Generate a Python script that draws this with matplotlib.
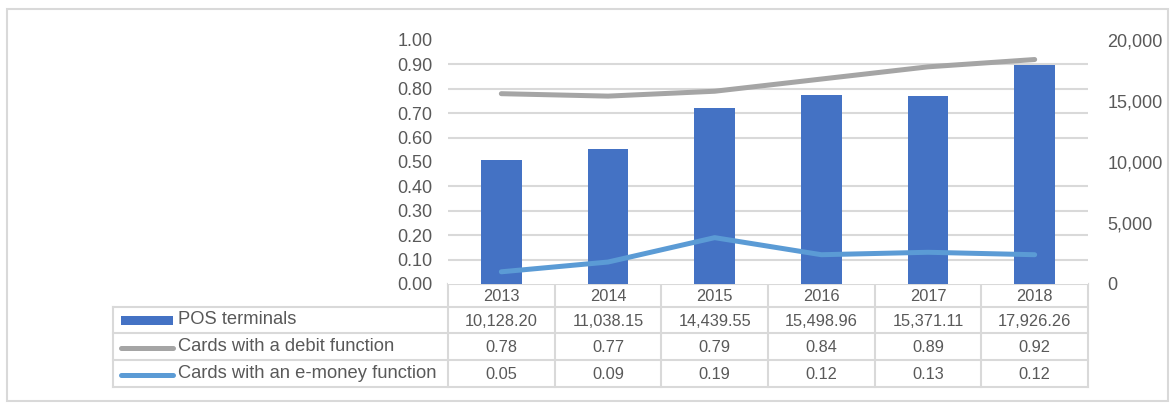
import matplotlib
matplotlib.use("Agg")
import matplotlib.pyplot as plt
from matplotlib.ticker import MultipleLocator, FixedLocator, FuncFormatter

# dane
years = ["2013", "2014", "2015", "2016", "2017", "2018"]
pos_terminals = [10128.20, 11038.15, 14439.55, 15498.96, 15371.11, 17926.26]
debit_cards = [0.78, 0.77, 0.79, 0.84, 0.89, 0.92]
emoney_cards = [0.05, 0.09, 0.19, 0.12, 0.13, 0.12]
series_names = ["POS terminals", "Cards with a debit function", "Cards with an e-money function"]

blue_bar = "#4472C4"
grey_line = "#A5A5A5"
blue_line = "#5B9BD5"
txt = "#595959"
grid_c = "#D9D9D9"

plt.rcParams["font.family"] = ["Liberation Sans", "DejaVu Sans"]

W, H = 1175, 407
fig = plt.figure(figsize=(W / 100, H / 100), dpi=100)

# obramowanie całego wykresu
frame = fig.add_axes([0, 0, 1, 1])
frame.set_xlim(0, W)
frame.set_ylim(H, 0)
frame.axis("off")
frame.add_patch(plt.Rectangle((7, 9), 1161, 392, fill=False, ec=grid_c, lw=1.5))

# osie wykresu
left, right, top, bottom = 448, 1088, 40, 284
ax = fig.add_axes([left / W, (H - bottom) / H, (right - left) / W, (bottom - top) / H])
x = list(range(len(years)))
ax.bar(x, pos_terminals, width=0.38, color=blue_bar, zorder=2)
ax.set_xlim(-0.5, len(years) - 0.5)
ax.set_ylim(0, 20000)
ax.yaxis.set_major_locator(FixedLocator([0, 5000, 10000, 15000, 20000]))
ax.yaxis.set_minor_locator(MultipleLocator(2000))
ax.yaxis.set_major_formatter(FuncFormatter(lambda v, p: f"{v:,.0f}"))
ax.grid(which="minor", axis="y", color=grid_c, lw=1.5, zorder=0)
ax.tick_params(axis="x", length=0, labelbottom=False)
for s in ax.spines.values():
    s.set_visible(False)

ax2 = ax.twinx()
ax2.plot(x, debit_cards, color=grey_line, lw=3.6, solid_capstyle="round")
ax2.plot(x, emoney_cards, color=blue_line, lw=3.6, solid_capstyle="round")
ax2.set_ylim(0, 1.0)
ax2.yaxis.set_major_locator(MultipleLocator(0.1))
ax2.yaxis.set_major_formatter(FuncFormatter(lambda v, p: f"{v:.2f}"))
for s in ax2.spines.values():
    s.set_visible(False)

# osie: lewa dla kart, prawa dla terminali
ax.yaxis.tick_right()
ax2.yaxis.tick_left()
ax.tick_params(axis="y", which="both", length=0, pad=14, labelsize=13, labelcolor=txt)
ax2.tick_params(axis="y", length=0, pad=11, labelsize=13, labelcolor=txt)

# tabela danych
col_w = (right - left) / len(years)
rows_y = [284, 307, 333, 360, 387]
frame.plot([left, right], [rows_y[0]] * 2, color=grid_c, lw=1.5)
for yy in rows_y[1:]:
    frame.plot([113, right], [yy, yy], color=grid_c, lw=1.5)
frame.plot([113, 113], [rows_y[1], rows_y[-1]], color=grid_c, lw=1.5)
for k in range(len(years) + 1):
    xx = left + k * col_w
    frame.plot([xx, xx], [rows_y[0], rows_y[-1]], color=grid_c, lw=1.5)

table_rows = [
    [f"{v:,.2f}" for v in pos_terminals],
    [f"{v:.2f}" for v in debit_cards],
    [f"{v:.2f}" for v in emoney_cards],
]
for k, yr in enumerate(years):
    cx = left + (k + 0.5) * col_w
    frame.text(cx, (rows_y[0] + rows_y[1]) / 2 + 1, yr, ha="center", va="center",
               color=txt, fontsize=11.8)
    for r, vals in enumerate(table_rows):
        cy = (rows_y[r + 1] + rows_y[r + 2]) / 2 + 1
        frame.text(cx, cy, vals[k], ha="center", va="center", color=txt, fontsize=11.8)

# legenda w tabeli
cy = [(rows_y[r + 1] + rows_y[r + 2]) / 2 for r in range(3)]
frame.add_patch(plt.Rectangle((121, cy[0] - 4.5), 52, 9, color=blue_bar, lw=0))
frame.plot([121, 173], [cy[1] + 1] * 2, color=grey_line, lw=3.6, solid_capstyle="round")
frame.plot([121, 173], [cy[2] + 1] * 2, color=blue_line, lw=3.6, solid_capstyle="round")
for r, name in enumerate(series_names):
    frame.text(178, cy[r], name, ha="left", va="center", fontsize=13.2, color=txt)

fig.savefig("out.png", dpi=100)
